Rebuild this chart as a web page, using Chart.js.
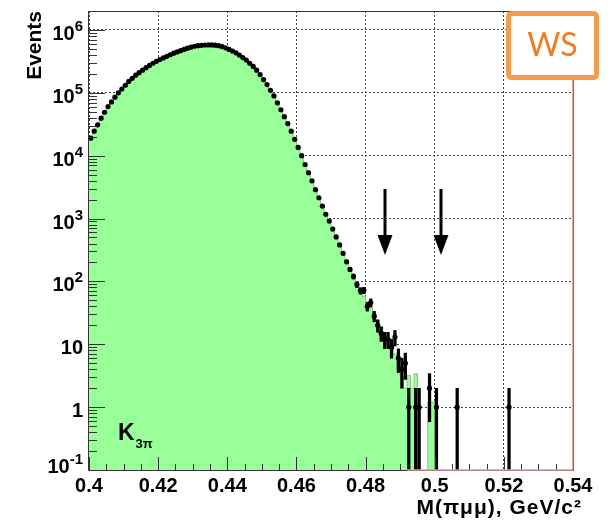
<!DOCTYPE html>
<html><head><meta charset="utf-8">
<script src="https://cdn.jsdelivr.net/npm/chart.js@4.4.0/dist/chart.umd.min.js"></script>
<style>html,body{margin:0;padding:0;background:#fff;}canvas{display:block;}</style>
</head><body>
<canvas id="c" width="611" height="521"></canvas>
<script>
// ---- data ----
const xMin = 0.4, xMax = 0.54, binWidth = 0.001;   // 140 bins of 1 MeV
const mcCounts = [
 19000,24500,30900,39400,49000,60300,71600,85100,100000,114800,
 131800,151400,169800,190500,208900,229100,251200,272300,295100,316200,
 338800,358900,380200,402700,426600,446700,467700,489800,512900,530900,
 549500,562300,568900,575400,578100,577000,572800,562300,543300,518800,
 489800,462400,431500,398100,363100,331100,295100,263000,229100,195000,
 162200,134900,109600,89100,69200,53700,41700,32400,24500,18200,
 13500,10000,7240,5370,3980,2880,2140,1580,1170,910,
 680,510,380,280,205,155,120,89,71,58,
 47,38,30,24,19,15,12,9,7,4,
 3,2,3.2,2,3.4,0,0,0,1.2,1.2,
 0,0,0,0,0,0,0,0,0,0,
 0,0,0,0,0,0,0,0,0,0,
 0,0,0,0,0,0,0,0,0,0,
 0,0,0,0,0,0,0,0,0,0
];
const dataCounts = [
 19000,24500,30900,39400,49000,60300,71600,85100,100000,114800,
 131800,151400,169800,190500,208900,229100,251200,272300,295100,316200,
 338800,358900,380200,402700,426600,446700,467700,489800,512900,530900,
 549500,562300,568900,575400,578100,577000,572800,562300,543300,518800,
 489800,462400,431500,398100,363100,331100,295100,263000,229100,195000,
 162200,134900,109600,89100,69200,53700,41700,32400,24500,18200,
 13500,10000,7240,5370,3980,2880,2140,1580,1170,910,
 680,510,380,280,205,155,120,89,71,72,
 40,46,28,20,15,12,12,9,13,6,
 4,5,1,0,1,1,0,0,2,0,
 1,0,0,0,0,0,1,0,0,0,
 0,0,0,0,0,0,0,0,0,0,
 0,1,0,0,0,0,0,0,0,0,
 0,0,0,0,0,0,0,0,0,0
];
const xTickValues = [0.4,0.42,0.44,0.46,0.48,0.5,0.52,0.54];
const xTickLabels = ['0.4','0.42','0.44','0.46','0.48','0.5','0.52','0.54'];
const yTickValues = [0.1,1,10,100,1000,10000,100000,1000000];
const yTickBases  = ['10','1','10','10','10','10','10','10'];
const yTickExps   = ['-1','','','2','3','4','5','6'];
const cutArrows = [0.4857, 0.5018];
const arrowRange = [2950, 263];

// ---- build datasets ----
const N = mcCounts.length;
const FLOOR = 1e-4;   // stand-in for empty bins on the log axis (below the visible range)
const mcLine = mcCounts.map((v,i)=>({x: xMin + i*binWidth, y: v>0 ? v : FLOOR}));
mcLine.push({x: xMin + N*binWidth, y: mcCounts[N-1]>0 ? mcCounts[N-1] : FLOOR});
const dataPts = [], errBars = [];
dataCounts.forEach((v,i)=>{
  if (v>0){
    const c = xMin + (i+0.5)*binWidth, e = Math.sqrt(v);
    dataPts.push({x:c, y:v});
    errBars.push({x:c, y:[Math.max(v-e, FLOOR), v+e]});
  }
});

const FONT = '"Liberation Sans", Arial, Helvetica, sans-serif';

const decorations = {
  id:'decor',
  afterDatasetsDraw(chart){
    const ctx = chart.ctx, xs = chart.scales.x, ys = chart.scales.y;
    const {left,right,top,bottom} = chart.chartArea;
    ctx.save();
    ctx.lineWidth = 1; ctx.strokeStyle = '#333';
    ctx.beginPath();
    for (let e=-1;e<=6;e++){
      for (let k=1;k<=9;k++){
        const v = k*Math.pow(10,e);
        if (v < ys.min || v > ys.max) continue;
        const py = Math.round(ys.getPixelForValue(v)) + 0.5;
        const len = k===1 ? 16 : 8;
        ctx.moveTo(left, py); ctx.lineTo(left+len, py);
      }
    }
    for (let j=0;j<xTickValues.length;j++){
      const px = Math.round(xs.getPixelForValue(xTickValues[j])) + 0.5;
      ctx.moveTo(px, bottom); ctx.lineTo(px, bottom-13);
      if (j < xTickValues.length-1){
        const step = (xTickValues[j+1]-xTickValues[j])/4;
        for (let m=1;m<4;m++){
          const pm = Math.round(xs.getPixelForValue(xTickValues[j]+m*step)) + 0.5;
          ctx.moveTo(pm, bottom); ctx.lineTo(pm, bottom-6);
        }
      }
    }
    ctx.stroke();
    ctx.beginPath();
    ctx.moveTo(left-0.5, top+0.5); ctx.lineTo(right, top+0.5);
    ctx.moveTo(left-0.5, top); ctx.lineTo(left-0.5, bottom+0.5);
    ctx.moveTo(left-0.5, bottom+0.5); ctx.lineTo(right, bottom+0.5);
    ctx.stroke();
    ctx.strokeStyle = '#e89a9a'; ctx.lineWidth = 1.5;
    ctx.beginPath();
    ctx.moveTo(xs.getPixelForValue(0.492), bottom); ctx.lineTo(right, bottom);
    ctx.stroke();
    ctx.strokeStyle = '#d04a4a'; ctx.lineWidth = 1.5;
    ctx.beginPath(); ctx.moveTo(right+0.25, top); ctx.lineTo(right+0.25, bottom+1); ctx.stroke();
    ctx.fillStyle = '#000'; ctx.strokeStyle = '#000';
    cutArrows.forEach(xv=>{
      const px = Math.round(xs.getPixelForValue(xv));
      const y0 = ys.getPixelForValue(arrowRange[0]);
      const y1 = ys.getPixelForValue(arrowRange[1]);
      ctx.lineWidth = 3;
      ctx.beginPath(); ctx.moveTo(px, y0); ctx.lineTo(px, y1-18); ctx.stroke();
      ctx.beginPath(); ctx.moveTo(px-7.5, y1-20); ctx.lineTo(px+7.5, y1-20); ctx.lineTo(px, y1); ctx.closePath(); ctx.fill();
    });
    ctx.restore();
  },
  afterDraw(chart){
    const ctx = chart.ctx, ys = chart.scales.y, {left,right,top,bottom} = chart.chartArea;
    ctx.save();
    ctx.fillStyle = '#000';
    // y tick labels with real superscripts
    const baseFont = 'bold 20px ' + FONT, supFont = 'bold 15px ' + FONT;
    yTickValues.forEach((v,i)=>{
      const py = ys.getPixelForValue(v);
      ctx.font = supFont; const ws = yTickExps[i] ? ctx.measureText(yTickExps[i]).width : 0;
      ctx.font = baseFont; const wb = ctx.measureText(yTickBases[i]).width;
      const xr = left - 6;
      const baseY = Math.min(py + 10, bottom + 3);
      ctx.textAlign = 'left'; ctx.textBaseline = 'alphabetic';
      ctx.fillText(yTickBases[i], xr - ws - wb, baseY);
      if (yTickExps[i]){ ctx.font = supFont; ctx.fillText(yTickExps[i], xr - ws, baseY - 9); }
    });
    ctx.textBaseline = 'alphabetic';
    ctx.textAlign = 'left';
    ctx.font = 'bold 23px ' + FONT;
    ctx.fillText('K', left+29, bottom-30);
    const kw = ctx.measureText('K').width;
    ctx.font = 'bold 13px ' + FONT;
    ctx.fillText('3\u03C0', left+29+kw+1, bottom-22);
    ctx.textAlign = 'right';
    ctx.font = 'bold 21px ' + FONT;
    if ('letterSpacing' in ctx) ctx.letterSpacing = '1px';
    ctx.fillText('M(\u03C0\u03BC\u03BC), GeV/c\u00B2', right+9, bottom+44);
    if ('letterSpacing' in ctx) ctx.letterSpacing = '0px';
    const bx = 508.5, by = 13.5, bw = 88, bh = 64;
    ctx.lineWidth = 5; ctx.strokeStyle = '#f59b4c'; ctx.fillStyle = '#fff';
    ctx.beginPath();
    if (ctx.roundRect) ctx.roundRect(bx, by, bw, bh, 3); else ctx.rect(bx, by, bw, bh);
    ctx.fill(); ctx.stroke();
    ctx.fillStyle = '#ee7d22';
    ctx.textAlign = 'center';
    ctx.font = '32px Lato, "Open Sans", sans-serif';
    ctx.fillText('WS', bx + bw/2, 56);
    ctx.restore();
  }
};

new Chart(document.getElementById('c').getContext('2d'), {
  type: 'line',
  data: { datasets: [
    { type:'line', label:'MC', data: mcLine, stepped:'before', fill:'start',
      backgroundColor:'#99ff99', borderColor:'#7cc87c', borderWidth:1, pointRadius:0, order:3 },
    { type:'bar', label:'errors', data: errBars, backgroundColor:'#000', barThickness:2.6, order:2 },
    { type:'line', label:'Data', data: dataPts, showLine:false, pointRadius:2.6, pointHoverRadius:2.6,
      pointBackgroundColor:'#000', pointBorderWidth:0, borderColor:'#000', order:1 }
  ]},
  options: {
    responsive:false, animation:false, devicePixelRatio:1,
    layout:{padding:{top:11,right:38,left:0,bottom:0}},
    plugins:{legend:{display:false}, tooltip:{enabled:false}},
    scales:{
      x:{ type:'linear', min:xMin, max:xMax, offset:false,
        afterBuildTicks: s=>{ s.ticks = xTickValues.map(v=>({value:v})); },
        afterFit: s=>{ s.height = 51; },
        ticks:{ autoSkip:false, maxRotation:0, padding:4, color:'#000',
          font:{family:FONT, size:20, weight:'bold'},
          callback:(v,i)=>xTickLabels[i] },
        grid:{ color:'#444', lineWidth:1, drawTicks:false, offset:false },
        border:{ display:false, dash:[2,2] } },
      y:{ type:'logarithmic', min:0.1, max:2e6,
        afterBuildTicks: s=>{ s.ticks = yTickValues.map(v=>({value:v})); },
        afterFit: s=>{ s.width = 89; },
        ticks:{ display:false },
        grid:{ color:'#444', lineWidth:1, drawTicks:false },
        border:{ display:false, dash:[2,2] },
        title:{ display:true, text:'Events', align:'end', color:'#000',
          font:{family:FONT, size:21, weight:'bold'}, padding:{top:23,bottom:0} } }
    }
  },
  plugins:[decorations]
});
</script>
</body></html>
